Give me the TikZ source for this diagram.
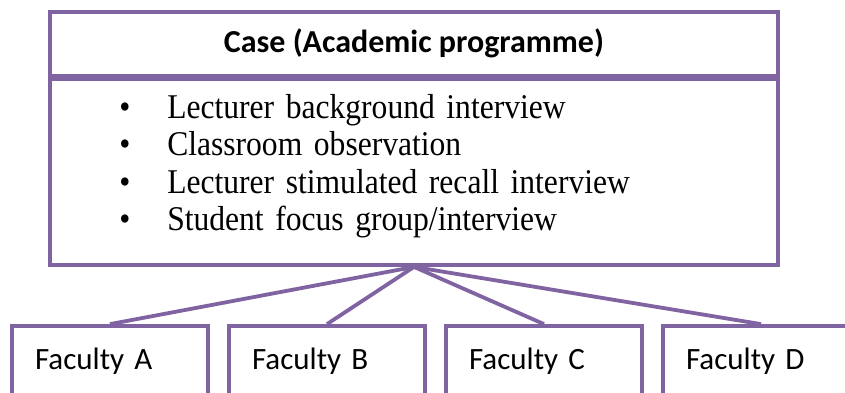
\documentclass[tikz,border=0pt]{standalone}
\usepackage{fontspec}
\setmainfont{Liberation Serif}
\newfontfamily\narrowserif[FakeStretch=0.91,WordSpace=0.9]{Liberation Serif}
\newfontfamily\calibri{Carlito}
\usetikzlibrary{positioning}

\definecolor{casepurple}{RGB}{128,100,162}
\tikzstyle{box}=[draw=casepurple, line width=3.8pt, fill=white]
\tikzstyle{header} = [box, minimum width=728pt, minimum height=63.5pt,
    font=\calibri\bfseries\fontsize{32}{38}\selectfont]
\tikzstyle{body} = [box, minimum width=728pt, minimum height=186pt]
\tikzstyle{items} = [inner sep=0pt, text width=560pt, align=left,
    font=\narrowserif\fontsize{34.7}{37.5}\selectfont]
\tikzstyle{faculty} = [box, text width=150pt, inner xsep=23pt, minimum height=70pt,
    align=left, font=\calibri\fontsize{31}{37}\selectfont]
\tikzstyle{link} = [draw=casepurple, line width=3.8pt]
\def\facdist{217pt}
\newcommand{\bull}{\makebox[48pt][l]{\textbullet}}

\begin{document}
\begin{tikzpicture}
	\clip (0,0) rectangle (845pt,-392pt);
	% Define the nodes in the picture
	\node (header) [header] at (414pt,-43.75pt) {Case (Academic programme)};
	\node (body) [body, below of=header, node distance=128.25pt] {};
	\node (list) [items, anchor=north west, below right=17pt and 71pt of body.north west] {%
		\bull Lecturer background interview\\
		\bull Classroom observation\\
		\bull Lecturer stimulated recall interview\\
		\bull Student focus group/interview};
	\node (facA) [faculty] at (110pt,-361pt) {Faculty A};
	\node (facB) [faculty, right of=facA, node distance=\facdist] {Faculty B};
	\node (facC) [faculty, right of=facB, node distance=\facdist] {Faculty C};
	\node (facD) [faculty, right of=facC, node distance=\facdist] {Faculty D};

	% Define the edges in the picture
	\draw [link] (body.south) -- (facA.north);
	\draw [link] (body.south) -- (facB.north);
	\draw [link] (body.south) -- (facC.north);
	\draw [link] (body.south) -- (facD.north);
\end{tikzpicture}
\end{document}
